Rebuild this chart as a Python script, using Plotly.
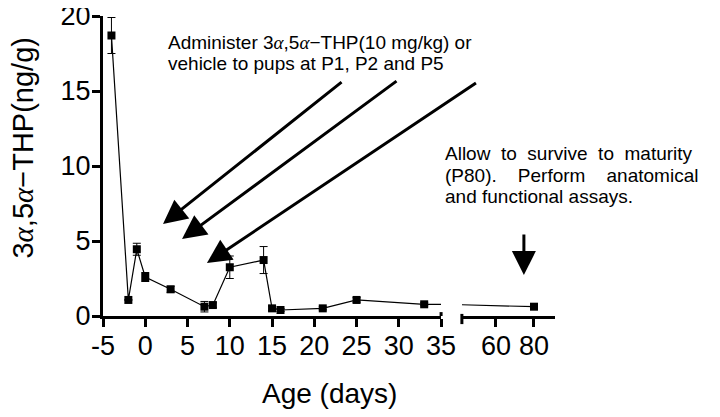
import plotly.graph_objects as go

# data
age_days = [-4, -2, -1, 0, 3, 7, 8, 10, 14, 15, 16, 21, 25, 33, 80]
thp_ng_g = [18.7, 1.07, 4.45, 2.6, 1.78, 0.62, 0.73, 3.25, 3.73, 0.51, 0.4, 0.51, 1.07, 0.78, 0.62]
thp_sem = [1.2, 0.0, 0.4, 0.3, 0.2, 0.35, 0.15, 0.75, 0.9, 0.15, 0.1, 0.1, 0.15, 0.1, 0.0]

left_ticks = [-5, 0, 5, 10, 15, 20, 25, 30, 35]
left_ticktext = ["-5", "0", "5", "10", "15", "20", "25", "30", "35"]
right_ticks = [60, 80]
y_ticks = [0, 5, 10, 15, 20]

FONT = "Liberation Sans, Arial, sans-serif"
ALPHA = "<span style=\"font-family:'Liberation Serif', serif\"><i>α</i></span>"

_AX = dict(showgrid=False, zeroline=False, showline=True, linewidth=3,
           linecolor="black", ticks="outside", ticklen=8, tickwidth=3,
           tickcolor="black", automargin=False, ticklabeloverflow="allow",
           ticklabelstandoff=-4, tickfont=dict(size=27, color="black"))

fig = go.Figure()
for xa in ["x", "x2"]:
    fig.add_trace(go.Scatter(
        x=age_days, y=thp_ng_g, xaxis=xa, yaxis="y",
        mode="lines+markers", showlegend=False, cliponaxis=True,
        line=dict(color="black", width=1.2),
        marker=dict(symbol="square", size=8, color="black"),
        error_y=dict(type="data", array=thp_sem, color="black",
                     thickness=1, width=4),
    ))

# arrows + notes
arrow = dict(text="", showarrow=True, arrowhead=2, arrowsize=1.6,
             arrowwidth=3, arrowcolor="black", standoff=0)
for (tx, ty, hx, hy) in [(23.4, 15.67, 2.1, 6.13),
                         (29.9, 15.73, 4.35, 5.13),
                         (39.3, 15.6, 7.3, 3.53)]:
    fig.add_annotation(x=hx, y=hy, ax=tx, ay=ty, xref="x", yref="y",
                       axref="x", ayref="y", **arrow)
fig.add_annotation(x=74.7, y=2.73, ax=74.7, ay=5.53, xref="x2", yref="y",
                   axref="x2", ayref="y", **arrow)

note = dict(xref="paper", yref="paper", showarrow=False, xanchor="left",
            yanchor="middle", font=dict(size=19, color="black", family=FONT))
fig.add_annotation(x=0.14, y=0.91,
                   text=f"Administer 3{ALPHA},5{ALPHA}−THP(10 mg/kg) or", **note)
fig.add_annotation(x=0.14, y=0.843, text="vehicle to pups at P1, P2 and P5", **note)
fig.add_annotation(x=0.752, y=0.543, text="Allow  to  survive  to  maturity", **note)
fig.add_annotation(x=0.752, y=0.47, text="(P80).    Perform    anatomical", **note)
fig.add_annotation(x=0.752, y=0.397, text="and functional assays.", **note)

# axis titles
fig.add_annotation(x=0.500, y=-0.257, xref="paper", yref="paper", showarrow=False,
                   xanchor="center", yanchor="middle",
                   text="Age (days)", font=dict(size=28, color="black", family=FONT))
fig.add_annotation(x=-0.178, y=0.56, xref="paper", yref="paper", showarrow=False,
                   xanchor="center", yanchor="middle",
                   textangle=-90, text=f"3{ALPHA},5{ALPHA}−THP(ng/g)",
                   font=dict(size=29, color="black", family=FONT))

# break caps on the x axis
fig.add_shape(type="line", xref="x domain", yref="paper", x0=1, x1=1, y0=0, y1=0.013,
              line=dict(color="black", width=3))
fig.add_shape(type="line", xref="x2 domain", yref="paper", x0=0, x1=0, y0=-0.027, y1=0.007,
              line=dict(color="black", width=3))

# the page body adds an 8px offset, so margins are trimmed by 8
fig.update_layout(
    width=720, height=417,
    paper_bgcolor="white", plot_bgcolor="white",
    font=dict(family=FONT, color="black"),
    margin=dict(l=95, r=173, t=8, b=109, autoexpand=False),
    xaxis=dict(domain=[0, 0.748], range=[-5, 35], tickvals=left_ticks,
               ticktext=left_ticktext, anchor="y", **_AX),
    xaxis2=dict(domain=[0.794, 1], range=[42.1, 91.05], tickvals=right_ticks,
                anchor="y", **_AX),
    yaxis=dict(range=[0, 20], tickvals=y_ticks, anchor="x", **_AX),
)

fig.write_html("out.html")
